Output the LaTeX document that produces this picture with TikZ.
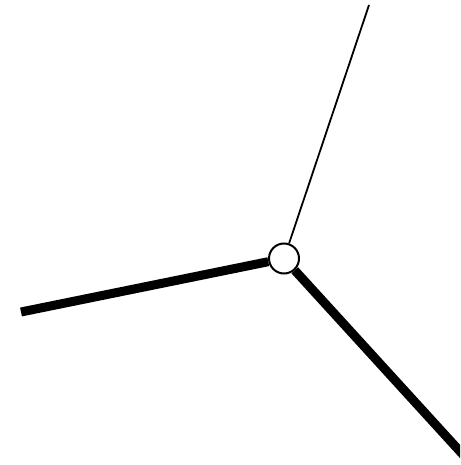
\documentclass[tikz,border=0pt]{standalone}
\begin{document}
\begin{tikzpicture}[x=1pt,y=-1pt]
\useasboundingbox (0,0) rectangle (460,465);
\clip (0,0) rectangle (460,465);
\coordinate (top) at (369,5);
\coordinate (left) at (21,312);
\coordinate (right) at (466,458);
\node[circle,draw,line width=2pt,fill=white,minimum size=30pt,inner sep=0pt] (hub) at (284,258.5) {};
\draw[line width=1.8pt] (hub) -- (top);
\draw[line width=9pt] (hub) -- (left);
\draw[line width=9pt] (hub) -- (right);
\end{tikzpicture}
\end{document}
